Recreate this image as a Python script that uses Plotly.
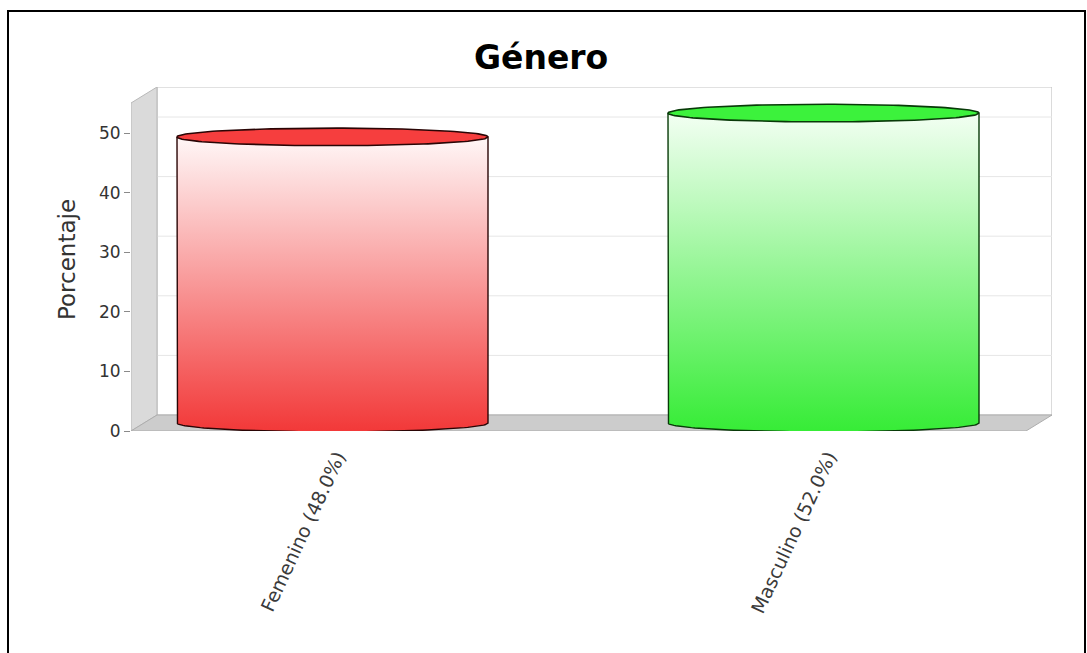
import numpy as np
import plotly.graph_objects as go

# ---- data ----
categories = ["Femenino (48.0%)", "Masculino (52.0%)"]
values = [48.0, 52.0]
y_ticks = [0, 10, 20, 30, 40, 50]
title_text = "Género"
y_title = "Porcentaje"

# ---- style ----
body_top = ["#FFF7F7", "#F3FFF3"]
body_bottom = ["#F23838", "#36EC36"]
cap_fill = ["#F63E3E", "#3CF23C"]
edge_col = ["#2A0505", "#083A08"]

W, H = 1087, 653
PL, PR, PT, PB = 131, 1052, 87, 431      # plot area in pixels
FRONT_R, FRONT_T = 1026, 103             # front face right / top in pixels
DXP, DYP = 26, 16                        # 3D depth offset in pixels
C0, CSP = 332.5, 491.0                   # first category center px, category spacing px
LABEL_SHIFT_PX = 5                       # tick label offset to the right
PXU = (PB - 133) / 50.0                  # px per y unit


def xd(px):
    return (px - C0) / CSP


def yd(py):
    return (PB - py) / PXU


def px_paper(px):
    return (px - PL) / (PR - PL)


def py_paper(py):
    return (PB - py) / (PB - PT)


DX = DXP / CSP
DY = DYP / PXU
HW = 155.5 / CSP
RY = 8.8 / PXU

fig = go.Figure()

theta_low = np.linspace(np.pi, 2 * np.pi, 80)
theta_full = np.linspace(0, 2 * np.pi, 160)

for i, (cat, v) in enumerate(zip(categories, values)):
    c = i
    yt = v + DY / 2
    yb = DY / 2
    bx = np.concatenate([[c - HW, c - HW], c + HW * np.cos(theta_low), [c + HW, c - HW]])
    by = np.concatenate([[yt, yb], yb + RY * np.sin(theta_low), [yt, yt]])
    fig.add_trace(go.Scatter(
        x=bx, y=by, mode="lines", fill="toself",
        line=dict(color=edge_col[i], width=1.4),
        fillgradient=dict(type="vertical",
                          colorscale=[[0, body_bottom[i]], [1, body_top[i]]],
                          start=yb - RY, stop=yt),
        hoverinfo="skip", showlegend=False))
    ex = c + HW * np.cos(theta_full)
    ey = yt + RY * np.sin(theta_full)
    fig.add_trace(go.Scatter(
        x=ex, y=ey, mode="lines", fill="toself", fillcolor=cap_fill[i],
        line=dict(color=edge_col[i], width=1.6),
        hoverinfo="skip", showlegend=False))

ymax_front = yd(FRONT_T)
shapes = []
# back panel
shapes.append(dict(type="rect", xref="x", yref="y", layer="below",
                   x0=xd(PL + DXP), x1=xd(FRONT_R + DXP), y0=DY, y1=ymax_front + DY,
                   fillcolor="white", line=dict(color="#C4C4C4", width=1.2)))
# gridlines on back panel
for t in y_ticks[1:]:
    shapes.append(dict(type="line", xref="x", yref="y", layer="below",
                       x0=xd(PL + DXP), x1=xd(FRONT_R + DXP), y0=t + DY, y1=t + DY,
                       line=dict(color="#E6E6E6", width=1)))
# left wall
xa, xb = xd(PL), xd(PL + DXP)
shapes.append(dict(type="path", xref="x", yref="y", layer="below",
                   path=f"M {xa},0 L {xa},{ymax_front} L {xb},{ymax_front + DY} L {xb},{DY} Z",
                   fillcolor="#DADADA", line=dict(color="#B8B8B8", width=1)))
# floor
xf = xd(FRONT_R)
xg = xd(FRONT_R + DXP)
shapes.append(dict(type="path", xref="x", yref="y", layer="below",
                   path=f"M {xa},0 L {xf},0 L {xg},{DY} L {xb},{DY} Z",
                   fillcolor="#CCCCCC", line=dict(color="#ADADAD", width=1)))
# outer frame
shapes.append(dict(type="rect", xref="paper", yref="paper", layer="above",
                   x0=px_paper(8), x1=px_paper(1085), y0=py_paper(700), y1=py_paper(11),
                   line=dict(color="black", width=2), fillcolor="rgba(0,0,0,0)"))

fig.update_layout(
    width=W, height=H, autosize=False,
    margin=dict(l=PL, r=W - PR, t=PT, b=H - PB, pad=0),
    paper_bgcolor="white", plot_bgcolor="white",
    shapes=shapes,
    showlegend=False,
    font=dict(family="DejaVu Sans", color="#444444"),
    xaxis=dict(range=[xd(PL), xd(PR)], tickmode="array",
               tickvals=[k + LABEL_SHIFT_PX / CSP for k in range(len(categories))],
               ticktext=categories, tickangle=-65, ticks="", showgrid=False, zeroline=False,
               showline=False, ticklabelstandoff=10,
               tickfont=dict(size=19, color="#3A3A3A"), fixedrange=True),
    yaxis=dict(range=[0, yd(PT)], tickmode="array", tickvals=y_ticks, ticks="outside",
               ticklen=6, tickcolor="#8A8A8A", showgrid=False, zeroline=False, showline=False,
               tickfont=dict(size=17, color="#333333"), fixedrange=True),
    annotations=[
        dict(text=f"<b>{title_text}</b>", xref="paper", yref="paper",
             x=px_paper(540.5), y=py_paper(57), xanchor="center", yanchor="middle",
             showarrow=False, font=dict(family="DejaVu Sans", size=33, color="black")),
        dict(text=y_title, xref="paper", yref="paper", textangle=-90,
             x=px_paper(67), y=py_paper(260), xanchor="center", yanchor="middle",
             showarrow=False, font=dict(family="DejaVu Sans", size=23, color="#333333")),
    ],
)

fig.write_html("out.html")
